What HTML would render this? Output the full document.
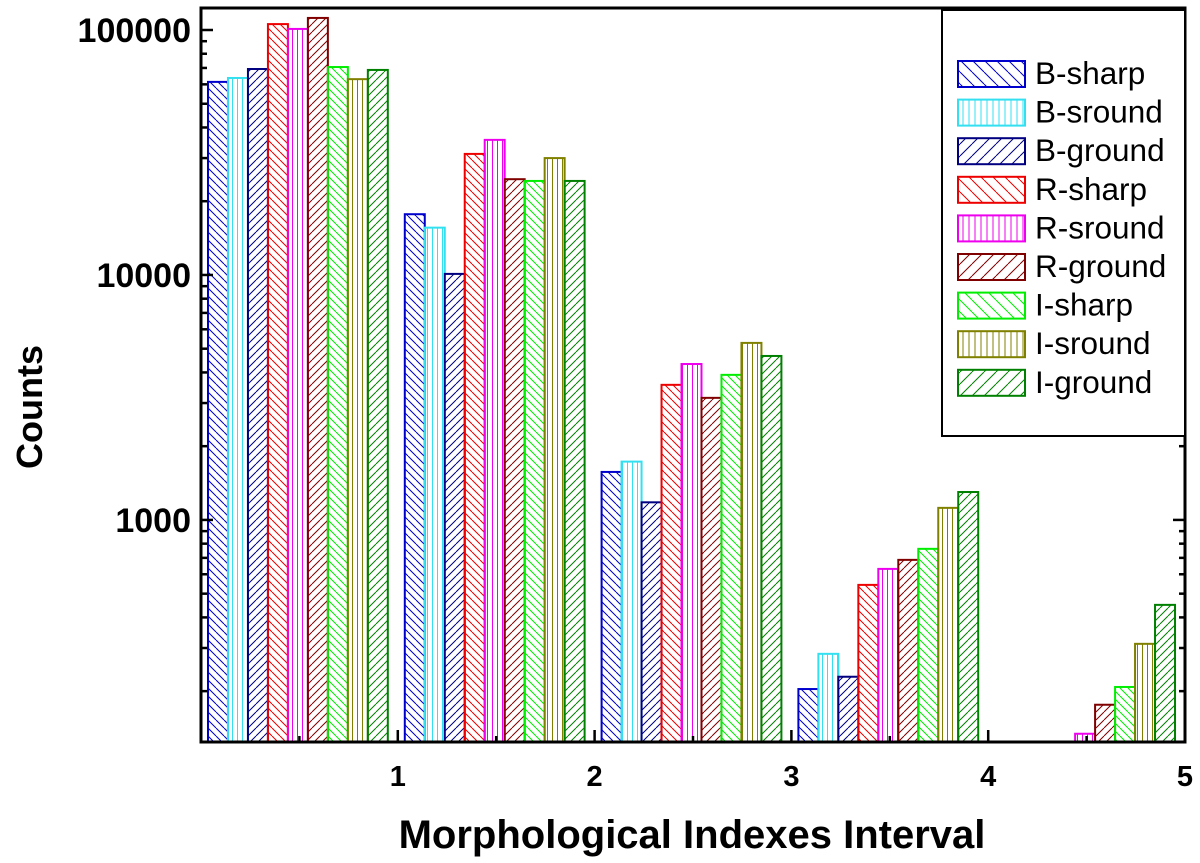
<!DOCTYPE html>
<html><head><meta charset="utf-8"><style>
html,body{margin:0;padding:0;background:#fff;}
svg{display:block;font-family:"Liberation Sans",Arial,sans-serif;}
</style></head><body>
<svg id="chart" width="1200" height="863" viewBox="0 0 1200 863" xmlns="http://www.w3.org/2000/svg">
<defs id="defs"></defs>
<g id="bars"></g>
<g id="axes"></g>
<g id="legend"></g>
<text x="42" y="407" transform="rotate(-90 42 407)" text-anchor="middle" font-size="36" font-weight="bold">Counts</text>
<text x="692" y="848" text-anchor="middle" font-size="40" font-weight="bold">Morphological Indexes Interval</text>
</svg>
<script>
const seriesNames=["B-sharp","B-sround","B-ground","R-sharp","R-sround","R-ground","I-sharp","I-sround","I-ground"];
const seriesColors=["#0000cc","#33e0f0","#000080","#ee0000","#ee00ee","#800000","#00ee00","#808000","#008000"];
const seriesPatterns=["back","vert","fwd","back","vert","fwd","back","vert","fwd"];
const intervals=[1,2,3,4,5];
const bSharp=[61400,17700,1570,204,100];
const bSround=[63700,15600,1730,284,100];
const bGround=[69300,10100,1180,229,100];
const rSharp=[105700,31200,3560,543,100];
const rSround=[101000,35600,4330,631,134];
const rGround=[112000,24600,3150,687,176];
const iSharp=[70600,24200,3910,762,208];
const iSround=[63000,30000,5280,1120,312];
const iGround=[68700,24200,4670,1300,450];
const yTicks=[1000,10000,100000];
const yTickLabels=["1000","10000","100000"];
const xTicks=[1,2,3,4,5];

const series=[bSharp,bSround,bGround,rSharp,rSround,rGround,iSharp,iSround,iGround];
const NS="http://www.w3.org/2000/svg";
const L=201,R=1185,T=8,B=742;
const xMin=0,xMax=5;
const yLogMin=Math.log10(124),yLogMax=5+22/245;
function xs(v){return L+(v-xMin)/(xMax-xMin)*(R-L);}
function ys(v){const lv=Math.log10(v);return B-(lv-yLogMin)/(yLogMax-yLogMin)*(B-T);}
function el(tag,attrs,parent){const e=document.createElementNS(NS,tag);for(const k in attrs)e.setAttribute(k,attrs[k]);parent.appendChild(e);return e;}

const defs=document.getElementById('defs');
function makePattern(i,sz){
  const id='p'+i+'_'+sz;
  const p=el('pattern',{id:id,patternUnits:'userSpaceOnUse',width:sz,height:sz},defs);
  const c=seriesColors[i],t=seriesPatterns[i];
  if(t==='vert') el('line',{x1:sz/2,y1:0,x2:sz/2,y2:sz,stroke:c,'stroke-width':1},p);
  else if(t==='back'){el('path',{d:`M0,0L${sz},${sz}M${-sz},0L0,${sz}M${sz},0L${2*sz},${sz}`,stroke:c,'stroke-width':1},p);}
  else {el('path',{d:`M0,${sz}L${sz},0M${-sz},${sz}L0,0M${sz},${sz}L${2*sz},0`,stroke:c,'stroke-width':1},p);}
  return id;
}
const bars=document.getElementById('bars');
const clip=el('clipPath',{id:'plotclip'},defs);
el('rect',{x:L,y:T,width:R-L,height:B-T},clip);
bars.setAttribute('clip-path','url(#plotclip)');
const unit=xs(1)-xs(0);
const bw=unit*20/197, off=unit*7/197;
series.forEach((arr,si)=>{
  const pid=makePattern(si,si%3===1?5:8);
  arr.forEach((v,k)=>{
    const x0=xs(intervals[k]-1)+off+si*bw;
    const y=ys(v);
    const r=el('rect',{x:x0,y:y,width:bw,height:Math.max(0,B-y+2),fill:'url(#'+pid+')',stroke:seriesColors[si],'stroke-width':2},bars);
    
    
  });
});

const axes=document.getElementById('axes');
el('rect',{x:L,y:T,width:R-L,height:B-T,fill:'none',stroke:'#000','stroke-width':3},axes);
for(let d=2;d<=5;d++){
  for(let m=1;m<10;m++){
    const v=m*Math.pow(10,d);
    const y=ys(v);
    if(y<T||y>B) continue;
    const len=m===1?12:6;
    el('line',{x1:L,y1:y,x2:L+len,y2:y,stroke:'#000','stroke-width':2.5},axes);
    el('line',{x1:R,y1:y,x2:R-len,y2:y,stroke:'#000','stroke-width':2.5},axes);
  }
}
yTicks.forEach((v,i)=>{
  const t=el('text',{x:L-10,y:ys(v)+12,'text-anchor':'end','font-size':34,'font-weight':'bold'},axes);
  t.textContent=yTickLabels[i];
  
  
});
xTicks.forEach(v=>{
  const x=xs(v);
  el('line',{x1:x,y1:B,x2:x,y2:B-12,stroke:'#000','stroke-width':2.5},axes);
  el('line',{x1:xs(v-0.5),y1:B,x2:xs(v-0.5),y2:B-6,stroke:'#000','stroke-width':2.5},axes);
  const t=el('text',{x:x,y:786,'text-anchor':'middle','font-size':29,'font-weight':'bold'},axes);
  t.textContent=String(v);
  
  
});

const lg=document.getElementById('legend');
const box=el('rect',{x:942,y:10,width:243,height:426,fill:'#fff',stroke:'#000','stroke-width':2},lg);


seriesNames.forEach((n,i)=>{
  const y=61+i*38.6;
  const pid=makePattern(i,i%3===1?6:12);
  const g=el('g',{},lg);
  
  
  el('rect',{x:958,y:y,width:67,height:26,fill:'url(#'+pid+')',stroke:seriesColors[i],'stroke-width':2},g);
  const t=el('text',{x:1035,y:y+23,'font-size':31.5},g);
  t.textContent=n;
});
</script>
</body></html>
